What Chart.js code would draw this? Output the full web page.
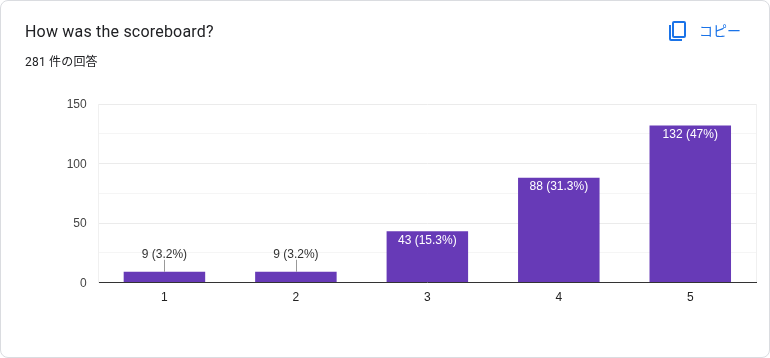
<!DOCTYPE html>
<html>
<head>
<meta charset="utf-8">
<script src="https://cdn.jsdelivr.net/npm/chart.js@4"></script>
<style>
html, body { margin: 0; padding: 0; background: #fff; }
#page { position: relative; width: 770px; height: 358px; overflow: hidden; background: #fff; }
#card { position: absolute; left: 0; top: 0; width: 768px; height: 356px; border: 1px solid #dadce0; border-radius: 8px; }
#title { position: absolute; left: 25px; top: 22px; font: 16px Roboto, sans-serif; letter-spacing: 0.2px; color: #202124; }
#count { position: absolute; left: 25px; top: 52px; font: 12px Roboto, "Noto Sans CJK JP", sans-serif; letter-spacing: 0.2px; color: #202124; }
#copy { position: absolute; left: 699px; top: 20px; font: 14px "Noto Sans CJK JP", sans-serif; color: #1a73e8; }
#icon { position: absolute; left: 667px; top: 20px; }
canvas { position: absolute; left: 0; top: 0; }
</style>
</head>
<body>
<div id="page">
    <div id="card"></div>
    <canvas id="chart" width="770" height="358"></canvas>
    <div id="title">How was the scoreboard?</div>
    <div id="count">281 件の回答</div>
    <svg id="icon" width="22" height="22" viewBox="0 0 22 22" fill="none" stroke="#1a73e8" stroke-width="2">
        <rect x="6" y="2" width="12" height="15" rx="1"></rect>
        <path d="M3 5v14a1 1 0 0 0 1 1h11"></path>
    </svg>
    <div id="copy">コピー</div>
</div>
<script>
const categories = ['1', '2', '3', '4', '5']
const responses = [9, 9, 43, 88, 132]
const percentLabels = ['9 (3.2%)', '9 (3.2%)', '43 (15.3%)', '88 (31.3%)', '132 (47%)']
const labelledTicks = [0, 50, 100, 150]

//google forms puts the label inside the bar unless the bar is too short
const barLabels = {
    id: 'barLabels',
    afterDatasetsDraw(chart) {
        const ctx = chart.ctx
        const bars = chart.getDatasetMeta(0).data
        ctx.save()
        ctx.font = '12px "Liberation Sans", Arial, sans-serif'
        ctx.textAlign = 'center'
        ctx.textBaseline = 'middle'
        bars.forEach((bar, i) => {
            if (responses[i] < 20) {
                ctx.strokeStyle = '#999999'
                ctx.lineWidth = 1
                ctx.beginPath()
                ctx.moveTo(Math.round(bar.x) + 0.5, bar.y)
                ctx.lineTo(Math.round(bar.x) + 0.5, bar.y - 12)
                ctx.stroke()
                ctx.fillStyle = '#333333'
                ctx.fillText(percentLabels[i], bar.x, bar.y - 17)
            } else {
                ctx.fillStyle = '#ffffff'
                ctx.fillText(percentLabels[i], bar.x, bar.y + 9)
            }
        })
        ctx.restore()
    }
}

new Chart(document.getElementById('chart'), {
    type: 'bar',
    data: {
        labels: categories,
        datasets: [{
            data: responses,
            backgroundColor: '#673ab7',
            categoryPercentage: 0.62,
            barPercentage: 1
        }]
    },
    options: {
        responsive: false,
        animation: false,
        layout: { padding: { top: 104, right: 14, left: 0, bottom: 0 } },
        plugins: { legend: { display: false }, tooltip: { enabled: false } },
        scales: {
            x: {
                afterFit: (scale) => { scale.height = 75.5 },
                //only the closing line on the right edge of the plot is visible
                grid: {
                    color: (c) => c.tick ? 'transparent' : '#f0f0f0',
                    tickColor: 'transparent'
                },
                border: { color: '#333333' },
                ticks: { color: '#222222', font: { family: '"Liberation Sans", Arial, sans-serif', size: 12 }, padding: 0 }
            },
            y: {
                min: 0,
                max: 150,
                afterFit: (scale) => { scale.width = 98.7 },
                grid: {
                    drawTicks: false,
                    color: (c) => labelledTicks.includes(c.tick.value) ? '#ebebeb' : '#f5f5f5'
                },
                border: { color: '#f0f0f0' },
                ticks: {
                    stepSize: 25,
                    autoSkip: false,
                    color: '#444444',
                    padding: 12,
                    labelOffset: 1,
                    font: { family: '"Liberation Sans", Arial, sans-serif', size: 12 },
                    callback: (value) => labelledTicks.includes(value) ? value : ''
                }
            }
        }
    },
    plugins: [barLabels]
})
</script>
</body>
</html>
